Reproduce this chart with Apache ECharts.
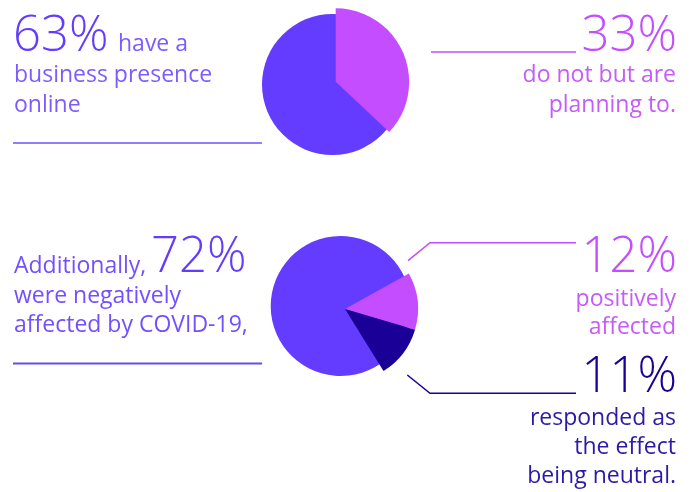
<!DOCTYPE html>
<html>
<head>
<meta charset="utf-8">
<title>Business presence and COVID-19</title>
<script src="https://cdn.jsdelivr.net/npm/echarts@6/dist/echarts.min.js"></script>
<style>
  html, body { margin: 0; padding: 0; background: #fff; }
  #chart { width: 695px; height: 492px; }
</style>
</head>
<body>
<div id="chart"></div>
<script>
// pie 1: online presence
const onlineNames = ['Planning to', 'Online'];
const onlineValues = [37, 63];
// pie 2: covid effect
const covidNames = ['Positive', 'Neutral', 'Negative'];
const covidValues = [12, 11, 72];
// headline figures shown as text
const headline = ['63%', '33%', '72%', '12%', '11%'];

const BLUE = '#643cff';
const PINK = '#c34dff';
const NAVY = '#1a0096';

const chart = echarts.init(document.getElementById('chart'));

// pulled out slices go on a second pie, the blue one stays hidden there
const pieItems = (names, values, colors, show) =>
  names.map((n, i) => ({
    name: n,
    value: values[i],
    itemStyle: { color: show[i] ? colors[i] : 'rgba(0,0,0,0)' }
  }));

// one blue disc underneath, a single item so no seams
const disc = (values) => [{
  name: 'total',
  value: values.reduce((a, b) => a + b, 0),
  itemStyle: { color: BLUE }
}];

const pie = (center, radius, startAngle, data) => ({
  type: 'pie',
  center: center,
  radius: [0, radius],
  startAngle: startAngle,
  clockwise: true,
  silent: true,
  animation: false,
  label: { show: false },
  labelLine: { show: false },
  itemStyle: { borderWidth: 0 },
  data: data
});

const onlineColors = [PINK, BLUE];
const covidColors = [PINK, NAVY, BLUE];

// text helper: y given as the baseline
const FONT = '"Open Sans", "Liberation Sans", sans-serif';
const txt = (x, base, s, size, color, align, weight) => ({
  type: 'text',
  x: x,
  y: base - 0.32 * size,
  style: {
    text: s,
    font: (weight || 400) + ' ' + size + 'px ' + FONT,
    fill: color,
    align: align || 'left',
    verticalAlign: 'middle'
  }
});

const line = (pts, color, w) => ({
  type: 'polyline',
  shape: { points: pts },
  style: { stroke: color, lineWidth: w, fill: null }
});

chart.setOption({
  backgroundColor: '#fff',
  series: [
    pie([332.5, 84.5], 70.5, 90, disc(onlineValues)),
    pie([335.7, 81.7], 73.4, 90, pieItems(onlineNames, onlineValues, onlineColors, [true, false])),
    pie([340.7, 306], 70, 29, disc(covidValues)),
    pie([345, 309], 73, 29, pieItems(covidNames, covidValues, covidColors, [true, true, false]))
  ],
  graphic: [
    // top left
    txt(13, 53, headline[0], 49, BLUE, 'left', 300),
    txt(118, 52, 'have a', 23, '#7a5cff'),
    txt(14, 83, 'business presence', 23, '#7a5cff'),
    txt(14, 113, 'online', 23, '#7a5cff'),
    line([[13, 143], [262, 143]], '#8f7cff', 2),
    // top right
    txt(677, 53, headline[1], 49, PINK, 'right', 300),
    txt(676, 83, 'do not but are', 23, '#c65cf8', 'right'),
    txt(676, 113, 'planning to.', 23, '#c65cf8', 'right'),
    line([[431, 52], [576, 52]], PINK, 1.5),
    // bottom left
    txt(14, 274, 'Additionally,', 23, '#7050ff'),
    txt(151, 274, headline[2], 49, BLUE, 'left', 300),
    txt(14, 303.5, 'were negatively', 23, '#7050ff'),
    txt(14, 333, 'affected by COVID-19,', 23, '#7050ff'),
    line([[13, 363.5], [262, 363.5]], '#6a4ce8', 2),
    // bottom right
    txt(677, 273.5, headline[3], 49, PINK, 'right', 300),
    txt(676, 306.5, 'positively', 23, '#c65cf8', 'right'),
    txt(676, 335, 'affected', 23, '#c65cf8', 'right'),
    line([[408, 260.7], [430, 242.7], [576, 242.7]], PINK, 1.5),
    txt(677, 393.5, headline[4], 49, NAVY, 'right', 300),
    txt(676, 426, 'responded as', 23, '#2c1aa6', 'right'),
    txt(676, 455, 'the effect', 23, '#2c1aa6', 'right'),
    txt(676, 484, 'being neutral.', 23, '#2c1aa6', 'right'),
    line([[407.3, 375], [430, 393.3], [576, 393.3]], NAVY, 1.5)
  ]
});
</script>
</body>
</html>
